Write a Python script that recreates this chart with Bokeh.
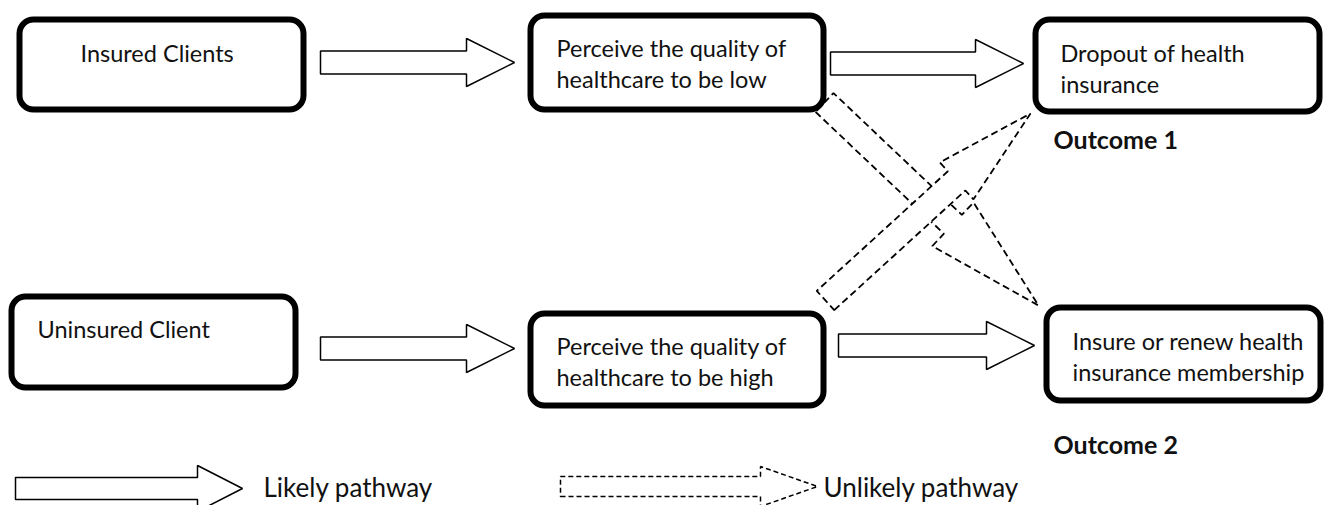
import numpy as np
from bokeh.plotting import figure
from bokeh.models import Range1d, ColumnDataSource
from bokeh.embed import file_html
from bokeh.resources import INLINE
from bokeh.core.properties import value

# ---------------- content ----------------
box_ids = ["insured", "low", "dropout", "uninsured", "high", "renew"]
box_lines = [
    ["Insured Clients"],
    ["Perceive the quality of", "healthcare to be low"],
    ["Dropout of health", "insurance"],
    ["Uninsured Client"],
    ["Perceive the quality of", "healthcare to be high"],
    ["Insure or renew health", "insurance membership"],
]
outcome_labels = ["Outcome 1", "Outcome 2"]
outcome_boxes = ["dropout", "renew"]
legend_labels = ["Likely pathway", "Unlikely pathway"]
likely_edges = [("insured", "low"), ("low", "dropout"), ("uninsured", "high"), ("high", "renew")]
unlikely_edges = [("low", "renew"), ("high", "dropout")]

# ---------------- layout (picture pixels, y downward) ----------------
box_left = [19, 530, 1035, 11, 530, 1046]
box_right = [303, 823, 1319, 295, 823, 1320]
box_top = [19, 15, 19, 296, 313, 307]
box_bottom = [109, 109, 111, 387, 405, 400]
text_x = [80, 556, 1060, 37, 556, 1072]
text_y = [52, 47, 52, 328, 345, 340]
line_gap = 31
outcome_pos = [(1053, 138), (1053, 443)]

likely_geom = [  # x0, x1, y
    (320, 514, 62),
    (830, 1023, 63),
    (320, 514, 348),
    (838, 1034, 345),
]
unlikely_geom = [  # start, tip, head half width, head length
    ((824, 102), (1038, 305), 30, 118),
    ((825, 300), (1030, 113), 25, 100),
]
legend_geom = [  # x0, x1, y, shaft hw, head hw, head len, text x
    (15, 242, 488, 11, 23, 45, 263),
    (560, 817, 486, 10, 20, 57, 823),
]
legend_text_y = 486


def block_arrow(s, t, hw, HW, HL):
    s = np.array(s, float)
    t = np.array(t, float)
    d = (t - s) / np.linalg.norm(t - s)
    n = np.array([-d[1], d[0]])
    e = t - d * HL
    pts = [s + n * hw, e + n * hw, e + n * HW, t, e - n * HW, e - n * hw, s - n * hw]
    return [float(p[0]) for p in pts], [float(p[1]) for p in pts]


W, H = 1325, 505
p = figure(width=W, height=H, output_backend="svg", toolbar_location=None,
           x_range=Range1d(0, W), y_range=Range1d(H, 0),
           min_border=0, outline_line_color=None, background_fill_color="white",
           border_fill_color="white")
p.axis.visible = False
p.grid.visible = False

FONT = "Lato"

# unlikely (dashed) arrows
for (s, t, HW, HL) in unlikely_geom:
    xs, ys = block_arrow(s, t, 13, HW, HL)
    p.patch(xs, ys, fill_color="white", line_color="black", line_width=1.8, line_dash="7 4")

# likely arrows
for (x0, x1, y) in likely_geom:
    xs, ys = block_arrow((x0, y), (x1, y), 11.5, 24, 48)
    p.patch(xs, ys, fill_color="white", line_color="black", line_width=1.5)

# boxes
src = ColumnDataSource(dict(left=box_left, right=box_right, top=box_top, bottom=box_bottom))
p.quad(left="left", right="right", top="top", bottom="bottom", source=src,
       fill_color="white", line_color="black", line_width=6, border_radius=14)

# box texts
tx, ty, tt = [], [], []
for i, lines in enumerate(box_lines):
    for j, ln in enumerate(lines):
        tx.append(text_x[i]); ty.append(text_y[i] + j * line_gap); tt.append(ln)
p.text(x=tx, y=ty, text=tt, text_font=value(FONT), text_font_size="23.5px",
       text_align="left", text_baseline="middle", text_color="#111111")

# outcomes
p.text(x=[q[0] for q in outcome_pos], y=[q[1] for q in outcome_pos], text=outcome_labels,
       text_font=value(FONT), text_font_size="25px", text_font_style="bold",
       text_align="left", text_baseline="middle", text_color="#111111")

# legend
for k, (x0, x1, y, hw, HW, HL, lx) in enumerate(legend_geom):
    xs, ys = block_arrow((x0, y), (x1, y), hw, HW, HL)
    if k == 0:
        p.patch(xs, ys, fill_color="white", line_color="black", line_width=1.5)
    else:
        p.patch(xs, ys, fill_color="white", line_color="black", line_width=1.5, line_dash="5 3")
p.text(x=[g[6] for g in legend_geom], y=[legend_text_y] * 2, text=legend_labels,
       text_font=value(FONT), text_font_size="26px", text_align="left",
       text_baseline="middle", text_color="#111111")

open("out.html", "w").write(file_html(p, INLINE))
